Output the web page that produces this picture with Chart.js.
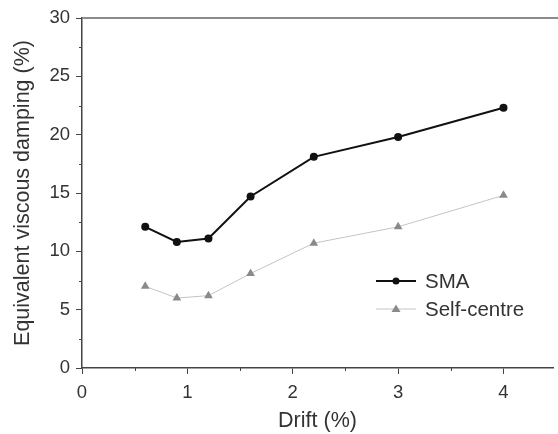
<!DOCTYPE html>
<html>
<head>
<meta charset="utf-8">
<script src="https://cdn.jsdelivr.net/npm/chart.js@4/dist/chart.umd.min.js"></script>
<style>
  html, body { margin: 0; padding: 0; background: #fff; }
  #wrap { width: 558px; height: 434px; }
</style>
</head>
<body>
<div id="wrap"><canvas id="chart" width="558" height="434"></canvas></div>
<script>
// data

const drift = [0.6, 0.9, 1.2, 1.6, 2.2, 3, 4];
const smaDamping = [12.1, 10.8, 11.1, 14.7, 18.1, 19.8, 22.3];
const selfCentreDamping = [7.0, 6.0, 6.2, 8.1, 10.7, 12.1, 14.8];

const seriesNames = ['SMA', 'Self-centre'];

const font = "'Liberation Sans', Arial, sans-serif";
const axisColor = '#444';
const textColor = '#333';

// minor ticks, top border and legend

const extrasPlugin = {
    id: 'extras',
    afterDraw(chart){
        const ctx = chart.ctx;
        const x = chart.scales.x;
        const y = chart.scales.y;
        const area = chart.chartArea;

        ctx.save();
        ctx.strokeStyle = axisColor;
        ctx.lineWidth = 1;

        // minor ticks
        for(let v = 0.5; v < x.max; v += 1){
            let px = Math.round(x.getPixelForValue(v)) + 0.5;
            ctx.beginPath();
            ctx.moveTo(px, area.bottom);
            ctx.lineTo(px, area.bottom + 3);
            ctx.stroke();
        }
        for(let v = 2.5; v < 30; v += 5){
            let py = Math.round(y.getPixelForValue(v)) + 0.5;
            ctx.beginPath();
            ctx.moveTo(area.left, py);
            ctx.lineTo(area.left - 3, py);
            ctx.stroke();
        }

        // top border
        ctx.strokeStyle = '#8c8c8c';
        ctx.lineWidth = 2;
        ctx.beginPath();
        ctx.moveTo(area.left, area.top);
        ctx.lineTo(chart.width, area.top);
        ctx.stroke();

        // legend
        const items = chart.data.datasets;
        const lx = 376, lw = 40;
        items.forEach((ds, i)=>{
            let ly = 281 + i*28;
            ctx.strokeStyle = ds.borderColor;
            ctx.lineWidth = ds.borderWidth;
            ctx.beginPath();
            ctx.moveTo(lx, ly);
            ctx.lineTo(lx + lw, ly);
            ctx.stroke();
            ctx.fillStyle = ds.pointBackgroundColor;
            ctx.beginPath();
            if(ds.pointStyle === 'triangle'){
                ctx.moveTo(lx + lw/2, ly - 4.5);
                ctx.lineTo(lx + lw/2 + 4.5, ly + 3);
                ctx.lineTo(lx + lw/2 - 4.5, ly + 3);
                ctx.closePath();
            }else{
                ctx.arc(lx + lw/2, ly, 3.5, 0, Math.PI*2);
            }
            ctx.fill();
            ctx.fillStyle = textColor;
            ctx.font = '20.5px ' + font;
            ctx.textBaseline = 'middle';
            ctx.fillText(ds.label, lx + lw + 9, ly + 1);
        });
        ctx.restore();
    }
};

// chart

new Chart('chart', {
    type: 'line',
    data: {
        datasets: [{
            label: seriesNames[0],
            data: drift.map((d, i)=>({x: d, y: smaDamping[i]})),
            borderColor: '#111',
            borderWidth: 2,
            pointStyle: 'circle',
            pointRadius: 4,
            pointBackgroundColor: '#111',
            pointBorderColor: '#111',
            pointBorderWidth: 0,
            tension: 0
        }, {
            label: seriesNames[1],
            data: drift.map((d, i)=>({x: d, y: selfCentreDamping[i]})),
            borderColor: '#c4c4c4',
            borderWidth: 1,
            pointStyle: 'triangle',
            pointRadius: 5,
            pointBackgroundColor: '#8a8a8a',
            pointBorderColor: '#8a8a8a',
            pointBorderWidth: 0,
            tension: 0
        }]
    },
    options: {
        responsive: false,
        animation: false,
        layout: { padding: { top: 18, right: 0, left: 0, bottom: 0 } },
        plugins: {
            legend: { display: false },
            tooltip: { enabled: false }
        },
        scales: {
            x: {
                type: 'linear',
                min: 0,
                max: 4.47,
                afterBuildTicks: scale=>{
                    scale.ticks = [0, 1, 2, 3, 4].map(v=>({value: v}));
                },
                afterFit: scale=>{ scale.height = 66; },
                ticks: { color: textColor, font: { family: font, size: 18.5 }, padding: 8 },
                grid: { drawOnChartArea: false, tickLength: 6, tickColor: axisColor, tickWidth: 1 },
                border: { color: axisColor, width: 1.5 },
                title: { display: true, text: 'Drift (%)', color: textColor, font: { family: font, size: 21.5 }, padding: { top: 6, bottom: 0 } }
            },
            y: {
                min: 0,
                max: 30,
                ticks: { stepSize: 5, color: textColor, font: { family: font, size: 18.5 }, padding: 6 },
                afterFit: scale=>{ scale.width = 82; },
                grid: { drawOnChartArea: false, tickLength: 6, tickColor: axisColor, tickWidth: 1 },
                border: { color: axisColor, width: 1.5 },
                title: { display: true, text: 'Equivalent viscous damping (%)', color: textColor, font: { family: font, size: 21.5 }, padding: { top: 10, bottom: 4 } }
            }
        }
    },
    plugins: [extrasPlugin]
});
</script>
</body>
</html>
